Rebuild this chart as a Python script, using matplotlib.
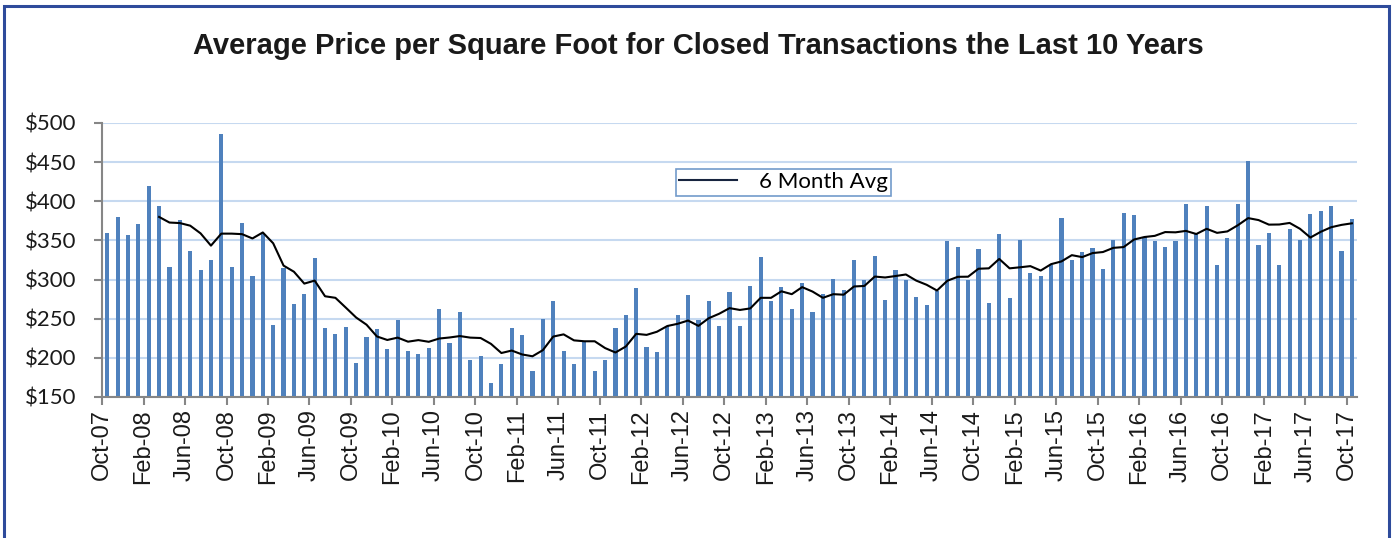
import numpy as np
import pandas as pd
import matplotlib
matplotlib.use("Agg")
import matplotlib.pyplot as plt
from matplotlib.patches import Rectangle
from matplotlib.ticker import FuncFormatter

# monthly average price per sq ft, Oct-07 .. Oct-17
months = pd.date_range("2007-10-01", "2017-10-01", freq="MS")
price = [
    359, 380, 357, 371, 419, 394, 316, 376, 337, 312, 325, 486,   # Oct-07 .. Sep-08
    316, 372, 304, 358, 242, 315, 269, 281, 327, 238, 230, 240,   # Oct-08 .. Sep-09
    193, 226, 237, 211, 248, 209, 205, 213, 262, 219, 259, 197,   # Oct-09 .. Sep-10
    202, 168, 192, 238, 229, 183, 249, 272, 209, 192, 222, 183,   # Oct-10 .. Sep-11
    197, 238, 255, 289, 214, 207, 241, 255, 280, 248, 273, 241,   # Oct-11 .. Sep-12
    284, 241, 292, 329, 273, 291, 262, 295, 258, 281, 301, 287,   # Oct-12 .. Sep-13
    325, 299, 330, 274, 312, 299, 278, 267, 286, 349, 342, 300,   # Oct-13 .. Sep-14
    339, 270, 358, 277, 350, 309, 305, 319, 379, 325, 335, 340,   # Oct-14 .. Sep-15
    313, 351, 385, 383, 354, 349, 342, 349, 396, 359, 394, 318,   # Oct-15 .. Sep-16
    353, 396, 451, 344, 359, 319, 365, 351, 384, 388, 394, 337,   # Oct-16 .. Sep-17
    377,                                                          # Oct-17
]
title = "Average Price per Square Foot for Closed Transactions the Last 10 Years"
yticks = [150, 200, 250, 300, 350, 400, 450, 500]

# Excel-style "6 per. moving average" trendline
avg6 = pd.Series(price).rolling(6).mean()

BAR = "#4f81bd"
GRID = "#c6d9f0"
AXIS = "#868686"

fig = plt.figure(figsize=(13.96, 5.38), dpi=100)
ax = fig.add_axes([0.0731, 0.2621, 0.8990, 0.5093])

x = np.arange(len(price)) + 0.5
ax.bar(x, price, width=0.4, color=BAR, zorder=2)
ax.plot(x, avg6, color="black", lw=1.5, zorder=3, label="6 Month Avg")

ax.set_xlim(0, len(price))
ax.set_ylim(150, 500)
ax.set_yticks(yticks)
ax.yaxis.set_major_formatter(FuncFormatter(lambda v, _: f"${v:.0f}"))
tick_pos = np.arange(0, len(price), 4)
ax.set_xticks(tick_pos)
ax.set_xticklabels([months[i].strftime("%b-%y") for i in tick_pos], rotation=90,
                   fontfamily="Liberation Sans", fontsize=17, color="#1a1a1a")
for lab in ax.get_yticklabels():
    lab.set_fontfamily("Lato")
    lab.set_fontsize(16)
    lab.set_color("#1a1a1a")

ax.grid(axis="y", color=GRID, lw=1.5, zorder=0)
ax.set_axisbelow(True)
for s in ("top", "right"):
    ax.spines[s].set_visible(False)
for s in ("left", "bottom"):
    ax.spines[s].set_color(AXIS)
    ax.spines[s].set_linewidth(1.5)
ax.tick_params(axis="both", colors=AXIS, length=6, width=1.5, direction="out")
ax.tick_params(axis="x", pad=3, labelcolor="#1a1a1a")
ax.tick_params(axis="y", pad=12.5, labelcolor="#1a1a1a")

leg = ax.legend(loc="center", bbox_to_anchor=(0.543, 0.784), frameon=True,
                fancybox=False, handlelength=2.6, handletextpad=1.0,
                borderpad=0.15, prop={"family": "Lato", "size": 16})
leg.get_frame().set_edgecolor(BAR)
leg.get_frame().set_linewidth(1.2)
leg.get_lines()[0].set_color("#17243f")

fig.text(0.5, 0.915, title, ha="center", va="center", fontsize=21,
         fontweight="bold", fontfamily="Liberation Sans", color="#1a1a1a")

# dark blue frame around the chart area (runs past the bottom edge)
fig.patches.append(Rectangle((4 / 1396, -0.05), 1385 / 1396, 1.05 - 6 / 538,
                             transform=fig.transFigure, fill=False,
                             edgecolor="#2e4b9b", lw=2.2))

fig.savefig("out.png", dpi=100, facecolor="white")
